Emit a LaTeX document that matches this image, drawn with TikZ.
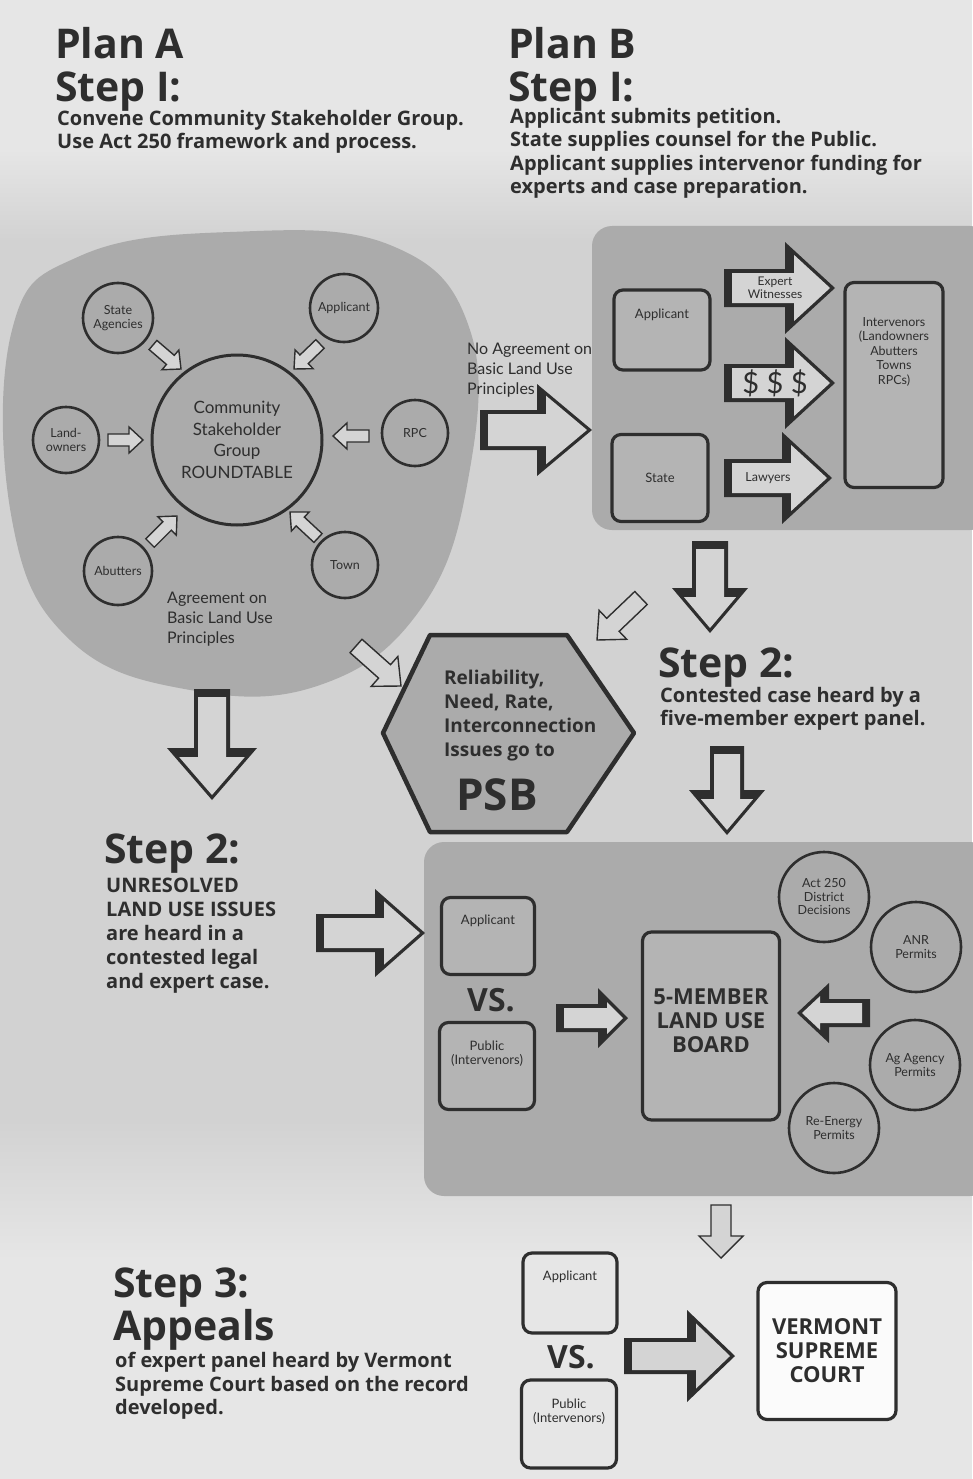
\documentclass[tikz,border=0pt]{standalone}
\usepackage{fontspec}
\setmainfont{Open Sans}
\newfontfamily\lightfont{Lato}
\usetikzlibrary{calc}
\definecolor{inkgray}{HTML}{2E2E2E}
\definecolor{paper}{HTML}{D2D2D2}
\definecolor{paperlight}{HTML}{E6E6E6}
\definecolor{blobgray}{HTML}{ABABAB}
\definecolor{cardgray}{HTML}{B4B4B4}
\definecolor{arrowfill}{HTML}{D4D4D4}

\tikzset{
  bubble/.style={circle, draw=inkgray, line width=2.6pt, inner sep=0pt, align=center,
    text=inkgray, font=\lightfont\fontsize{12.5}{13.5}\selectfont},
  card/.style={draw=inkgray, line width=3.2pt, rounded corners=9pt, fill=cardgray},
  cardtext/.style={inner sep=0pt, align=center, text=inkgray, font=\lightfont\fontsize{13}{14}\selectfont},
  heading/.style={anchor=north west, inner sep=0pt, align=left, text=inkgray,
    font=\bfseries\fontsize{41}{43}\selectfont},
  bodytext/.style={anchor=north west, inner sep=0pt, align=left, text=inkgray,
    font=\bfseries\fontsize{20}{23.5}\selectfont},
  plaintext/.style={anchor=north west, inner sep=0pt, align=left, text=inkgray,
    font=\lightfont\fontsize{16}{20}\selectfont},
  bigcaps/.style={inner sep=0pt, align=center, text=inkgray, font=\bfseries\fontsize{22}{24}\selectfont},
  arrowshade/.style={fill=inkgray},
  arrowinner/.style={fill=arrowfill},
  thinarrow/.style={draw=inkgray, line width=1.4pt, fill=arrowfill, line join=miter},
}

% block arrow: tail, tip, shaft half width, head half width, head length (plain numbers)
\newcommand{\fatarrow}[5]{%
  \pgfmathsetmacro\fasi{#3-4}%
  \pgfmathsetmacro\fahi{(#5-14)*#4/#5}%
  \path ($(#2)!#5pt!(#1)$) coordinate (fa-h);
  \path ($(#2)!5pt!(#1)$) coordinate (fa-p);
  \path ($(#1)!8pt!(#2)$) coordinate (fa-q);
  \path ($(fa-h)!9pt!(#2)$) coordinate (fa-r);
  \fill[arrowshade] ($(#1)!#3pt!90:(#2)$) -- ($(fa-h)!#3pt!90:(#2)$) -- ($(fa-h)!#4pt!90:(#2)$) -- (#2)
    -- ($(fa-h)!#4pt!-90:(#2)$) -- ($(fa-h)!#3pt!-90:(#2)$) -- ($(#1)!#3pt!-90:(#2)$) -- cycle;
  \fill[arrowinner] ($(fa-q)!\fasi pt!90:(#2)$) -- ($(fa-r)!\fasi pt!90:(#2)$) -- ($(fa-r)!\fahi pt!90:(#2)$) -- (fa-p)
    -- ($(fa-r)!\fahi pt!-90:(#2)$) -- ($(fa-r)!\fasi pt!-90:(#2)$) -- ($(fa-q)!\fasi pt!-90:(#2)$) -- cycle;
}
\newcommand{\slimarrow}[5]{%
  \path ($(#2)!#5pt!(#1)$) coordinate (fa-h);
  \draw[thinarrow] ($(#1)!#3pt!90:(#2)$) -- ($(fa-h)!#3pt!90:(#2)$) -- ($(fa-h)!#4pt!90:(#2)$) -- (#2)
    -- ($(fa-h)!#4pt!-90:(#2)$) -- ($(fa-h)!#3pt!-90:(#2)$) -- ($(#1)!#3pt!-90:(#2)$) -- cycle;
}

\begin{document}
\begin{tikzpicture}[x=1pt,y=-1pt]
  \useasboundingbox (0,0) rectangle (972,1479);
  % paper and shaded regions
  \fill[paper] (0,0) rectangle (972,1479);
  \fill[paperlight] (0,0) rectangle (972,150);
  \shade[top color=paperlight, bottom color=paper] (0,149) rectangle (972,240);
  \shade[top color=paper, bottom color=paperlight] (0,1120) rectangle (972,1260);
  \fill[paperlight] (0,1259) rectangle (972,1479);
  \fill[blobgray] plot[smooth cycle, tension=0.7] coordinates {(12,330) (80,256) (230,232) (390,245)
    (470,330) (468,480) (420,610) (320,685) (190,690) (70,640) (12,520)};
  \fill[blobgray, rounded corners=20pt] (592,226) rectangle (990,530);
  \fill[blobgray, rounded corners=20pt] (424,842) rectangle (990,1196);

  % headings
  \node[heading] (planA) at (55,27) {Plan A\\Step I:};
  \node[bodytext] (planAtxt) at (57,110) {Convene Community Stakeholder Group.\\Use Act 250 framework and process.};
  \node[heading] (planB) at (508,27) {Plan B\\Step I:};
  \node[bodytext] (planBtxt) at (510,108) {Applicant submits petition.\\State supplies counsel for the Public.\\Applicant supplies intervenor funding for\\experts and case preparation.};

  % Plan A roundtable
  \node[bubble, line width=3pt, minimum size=170, font=\lightfont\fontsize{17}{21.5}\selectfont] (cg) at (237,440) {Community\\Stakeholder\\Group\\ROUNDTABLE};
  \node[bubble, minimum size=70] (sa) at (118,318) {State\\Agencies};
  \node[bubble, minimum size=68] (ap) at (344,308) {Applicant};
  \node[bubble, minimum size=66] (lo) at (66,440) {Land-\\owners};
  \node[bubble, minimum size=66] (rpc) at (415,433) {RPC};
  \node[bubble, minimum size=68] (ab) at (118,571) {Abutters};
  \node[bubble, minimum size=66] (tw) at (345,565) {Town};
  \coordinate (sa-t) at (153,345);  \coordinate (sa-h) at (181,369);
  \coordinate (ap-t) at (320,344);  \coordinate (ap-h) at (294,369);
  \coordinate (lo-t) at (108,440);  \coordinate (lo-h) at (143,440);
  \coordinate (rpc-t) at (369,436); \coordinate (rpc-h) at (333,436);
  \coordinate (ab-t) at (150,543);  \coordinate (ab-h) at (177,516);
  \coordinate (tw-t) at (318,538);  \coordinate (tw-h) at (290,512);
  \slimarrow{sa-t}{sa-h}{6}{13}{14}
  \slimarrow{ap-t}{ap-h}{6}{13}{14}
  \slimarrow{lo-t}{lo-h}{6}{13}{14}
  \slimarrow{rpc-t}{rpc-h}{6}{13}{14}
  \slimarrow{ab-t}{ab-h}{6}{13}{14}
  \slimarrow{tw-t}{tw-h}{6}{13}{14}
  \node[plaintext] (agree) at (167,592) {Agreement on\\Basic Land Use\\Principles};

  % Plan B panel
  \node[plaintext] (noagree) at (467,343) {No Agreement on\\Basic Land Use\\Principles};
  \coordinate (noagree-t) at (480,430); \coordinate (noagree-h) at (592,430);
  \fatarrow{noagree-t}{noagree-h}{20}{46}{55}
  \node[card, minimum width=96, minimum height=80] (bapp) at (662,330) {};
  \node[cardtext] at ($(bapp.north)+(0,26)$) {Applicant};
  \node[card, minimum width=96, minimum height=87] (bst) at (660,478) {};
  \node[cardtext] at (bst) {State};
  \node[card, minimum width=98, minimum height=205] (binv) at (894,385) {};
  \node[cardtext, anchor=north, font=\lightfont\fontsize{12.5}{14.5}\selectfont] at ($(binv.north)+(0,36)$) {Intervenors\\(Landowners\\Abutters\\Towns\\RPCs)};
  \coordinate (wit-t) at (724,288); \coordinate (wit-h) at (835,288);
  \coordinate (fund-t) at (724,383); \coordinate (fund-h) at (835,383);
  \coordinate (law-t) at (724,478); \coordinate (law-h) at (832,478);
  \fatarrow{wit-t}{wit-h}{19}{46}{50}
  \fatarrow{fund-t}{fund-h}{19}{46}{50}
  \fatarrow{law-t}{law-h}{19}{46}{50}
  \node[cardtext, font=\lightfont\fontsize{12}{13}\selectfont] at (775,288) {Expert\\Witnesses};
  \node[cardtext, font=\lightfont\fontsize{29}{30}\selectfont] at (775,383) {\$ \$ \$};
  \node[cardtext, font=\lightfont\fontsize{12.5}{14}\selectfont] at (768,478) {Lawyers};

  % PSB hexagon
  \coordinate (bdown-t) at (710,541); \coordinate (bdown-h) at (710,633);
  \fatarrow{bdown-t}{bdown-h}{18}{38}{45}
  \coordinate (hexr-t) at (641,598); \coordinate (hexr-h) at (597,640);
  \slimarrow{hexr-t}{hexr-h}{9}{20}{22}
  \coordinate (hexl-t) at (356,646); \coordinate (hexl-h) at (401,686);
  \slimarrow{hexl-t}{hexl-h}{9}{20}{22}
  \draw[draw=inkgray, line width=4.5pt, fill=blobgray, line join=round] (383,733) -- (430,635) -- (567,635)
    -- (634,733) -- (567,832) -- (430,832) -- cycle;
  \node[bodytext, font=\bfseries\fontsize{19}{24}\selectfont] (hexlbl) at (444,670) {Reliability,\\Need, Rate,\\Interconnection\\Issues go to};
  \node[inner sep=0pt, text=inkgray, font=\bfseries\fontsize{44}{46}\selectfont] (psb) at (497,795) {PSB};

  % Plan B step 2
  \node[heading] (stepBii) at (658,648) {Step 2:};
  \node[bodytext] (stepBtxt) at (660,687) {Contested case heard by a\\five-member expert panel.};
  \coordinate (bpanel-t) at (727,746); \coordinate (bpanel-h) at (727,835);
  \fatarrow{bpanel-t}{bpanel-h}{17}{38}{45}

  % Plan A step 2
  \coordinate (adown-t) at (212,689); \coordinate (adown-h) at (212,800);
  \fatarrow{adown-t}{adown-h}{18}{45}{52}
  \node[heading] (stepAii) at (104,834) {Step 2:};
  \node[bodytext, font=\bfseries\fontsize{20}{24}\selectfont] (stepAtxt) at (106,878) {UNRESOLVED\\LAND USE ISSUES\\are heard in a\\contested legal\\and expert case.};
  \coordinate (acase-t) at (316,933); \coordinate (acase-h) at (425,933);
  \fatarrow{acase-t}{acase-h}{19}{44}{50}

  % land use board
  \node[card, minimum width=93, minimum height=77] (vapp) at (488,936) {};
  \node[cardtext] at ($(vapp.north)+(0,25)$) {Applicant};
  \node[inner sep=0pt, text=inkgray, font=\bfseries\fontsize{32}{34}\selectfont] (vsA) at (491,1000) {VS.};
  \node[card, minimum width=95, minimum height=87] (vpub) at (487,1066) {};
  \node[cardtext] at ($(vpub.north)+(0,33)$) {Public\\(Intervenors)};
  \coordinate (toboard-t) at (556,1018); \coordinate (toboard-h) at (628,1018);
  \fatarrow{toboard-t}{toboard-h}{14}{30}{30}
  \node[card, minimum width=137, minimum height=188] (board) at (711,1026) {};
  \node[bigcaps] at (711,1021) {5-MEMBER\\LAND USE\\BOARD};
  \coordinate (permits-t) at (870,1013); \coordinate (permits-h) at (797,1013);
  \fatarrow{permits-t}{permits-h}{14}{30}{32}
  \node[bubble, minimum size=90] (act) at (824,897) {Act 250\\District\\Decisions};
  \node[bubble, minimum size=90] (anr) at (916,947) {ANR\\Permits};
  \node[bubble, minimum size=90] (agp) at (915,1065) {Ag Agency\\Permits};
  \node[bubble, minimum size=90] (rep) at (834,1128) {Re-Energy\\Permits};

  % step 3
  \coordinate (appeal-t) at (721,1205); \coordinate (appeal-h) at (721,1258);
  \slimarrow{appeal-t}{appeal-h}{10}{22}{22}
  \node[heading] (stepiii) at (113,1268) {Step 3:\\Appeals};
  \node[bodytext] (stepiiitxt) at (115,1352) {of expert panel heard by Vermont\\Supreme Court based on the record\\developed.};
  \node[card, minimum width=94, minimum height=80, fill=paperlight] (capp) at (570,1293) {};
  \node[cardtext] at ($(capp.north)+(0,25)$) {Applicant};
  \node[inner sep=0pt, text=inkgray, font=\bfseries\fontsize{32}{34}\selectfont] (vsB) at (571,1357) {VS.};
  \node[card, minimum width=95, minimum height=88, fill=paperlight] (cpub) at (569,1424) {};
  \node[cardtext] at ($(cpub.north)+(0,33)$) {Public\\(Intervenors)};
  \coordinate (court-t) at (624,1356); \coordinate (court-h) at (735,1356);
  \fatarrow{court-t}{court-h}{18}{46}{48}
  \node[card, minimum width=138, minimum height=137, fill=white!92!paper] (court) at (827,1351) {};
  \node[bigcaps] at (court) {VERMONT\\SUPREME\\COURT};
\end{tikzpicture}
\end{document}
